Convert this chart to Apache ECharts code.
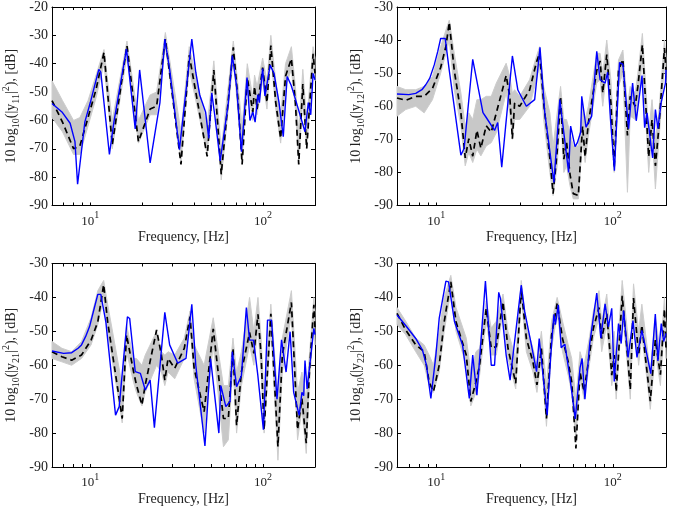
<!DOCTYPE html>
<html><head><meta charset="utf-8">
<script src="https://cdn.jsdelivr.net/npm/echarts@6/dist/echarts.min.js"></script>
<style>html,body{margin:0;padding:0;background:#fff}#c{width:675px;height:514px}</style>
</head><body><div id="c"></div>
<script>
// ---- axes ----
const xMin = 6, xMax = 200;
const xLabelValues = [10, 100];
const xLabelExp = ['1', '2'];
const xTickValues = [6, 7, 8, 9, 10, 20, 30, 40, 50, 60, 70, 80, 90, 100, 200];
const yMin = -90;
const yMaxes = [-20, -30, -30, -30];
const panelIdx = ['11', '12', '21', '22'];

// ---- y11 ----
const y11BlueF = [6, 6.85, 7.64, 8.15, 8.44, 9.3, 10, 11.2, 11.5, 12.9, 13.7, 16.2, 18.2, 19.3, 22.2, 25.3, 27.0, 28.8, 32.8, 38.7, 40.8, 43, 46.5, 48.5, 50.5, 52.5, 56.5, 63, 66.4, 70.3, 75, 80.8, 84, 87.3, 90, 93.3, 95.3, 99.5, 102.6, 110, 115.8, 123.8, 131, 138, 145.5, 154, 175, 183, 189, 195, 200];
const y11BlueV = [-54, -57, -61, -67.5, -82.5, -60.5, -53.7, -42, -43, -72, -60.5, -34.8, -63, -42.2, -75, -53.7, -31.3, -42, -70.3, -31.3, -43, -51, -57, -66.3, -50.3, -58, -74.3, -53.7, -37.1, -48, -71, -44.9, -60, -57, -60.6, -50.9, -53.7, -41.7, -51.4, -40.5, -43.4, -53.7, -65.7, -44.5, -47.6, -52.5, -64, -53.7, -58, -43.4, -45.7];
const y11BlackF = [6, 6.9, 8.0, 8.7, 9.7, 10.8, 12.0, 13.4, 16.3, 19.0, 22.2, 24.2, 27.2, 33.5, 37.4, 47.5, 51.9, 57.3, 67.3, 71.8, 75.7, 81.1, 87.3, 89.3, 92.4, 99.5, 105.4, 111, 118.5, 126.5, 135, 146, 154, 161, 170, 179, 195, 200];
const y11BlackV = [-53, -60.6, -70, -69, -59, -49, -36, -68.6, -33.6, -67.5, -56, -55, -31.3, -75.5, -37, -72.7, -42.2, -79, -34.2, -53.7, -75.5, -45, -57, -48, -56, -41.4, -53.7, -33.6, -53.7, -66.3, -44.4, -38.2, -53.7, -75.5, -47.2, -70, -36.5, -43.4];
const y11BandLow = [-59, -64, -72, -72, -62, -52, -40, -70, -37, -68, -58, -58, -34, -74, -42, -72, -46, -81, -38, -58, -74, -48, -60, -52, -58, -46, -56, -37, -56, -68, -48, -42, -56, -74, -52, -70, -40, -46];
const y11BandHigh = [-46, -53, -60, -59, -53, -44, -35, -60, -32, -60, -51, -50, -29, -64, -34, -62, -39, -70, -32, -48, -62, -40, -52, -44, -48, -38, -46, -30, -46, -58, -40, -34, -48, -64, -42, -60, -34, -38];

// ---- y12 ----
const y12BlueF = [6, 7, 7.66, 8.3, 8.73, 9.2, 9.75, 10.2, 10.6, 11.25, 11.86, 13.8, 14.4, 16.1, 16.4, 18.4, 19.2, 21.4, 22.3, 23.5, 27, 29, 32.4, 36.1, 38.7, 41.2, 46.4, 50.1, 56.2, 57.7, 61.1, 63, 65.8, 66.7, 70.5, 75.9, 81.1, 84.7, 90.4, 93.5, 97, 102.1, 109.1, 114, 122.8, 129.4, 135.7, 146.3, 151.4, 156.2, 168, 174.2, 180, 187.6, 198.6, 200];
const y12BlueV = [-56.3, -56.5, -56.1, -55, -53.5, -51.5, -47.5, -43.5, -39.5, -39.5, -49.2, -74.8, -72.7, -45.8, -45.8, -61.9, -63.4, -67.3, -64.9, -78.4, -44.8, -55.1, -60, -58, -42.2, -62, -83, -58, -80, -66, -72.2, -71, -67.8, -57, -66.3, -63, -43.4, -52, -53, -49.7, -64, -79.5, -46.8, -47.3, -66.8, -53, -64.4, -50.7, -66.5, -62, -75.6, -61, -66.8, -59, -53, -49];
const y12BlackF = [6, 6.72, 7.66, 8.55, 9.53, 10.6, 11.35, 11.86, 12.66, 13.8, 14.6, 15.3, 16.1, 17, 17.9, 19.2, 20.5, 21.9, 24.9, 26.1, 27, 27.8, 29.7, 33.8, 36.9, 38.5, 40.6, 44, 45.9, 48.4, 50.6, 52.8, 54.7, 57.2, 59.7, 63.8, 67.4, 69.7, 72.7, 81.1, 84.7, 87.7, 92.4, 97.5, 101.8, 107.7, 114, 121, 125.4, 133.9, 138.6, 147, 159.6, 166.7, 174.2, 182, 196, 200];
const y12BlackV = [-57.5, -58.2, -57, -57, -54.6, -48.3, -41.9, -34.6, -49.2, -62, -75.6, -69.8, -75.1, -67.3, -72.7, -65.9, -67.8, -62, -50.7, -57, -69.8, -59, -60, -55.1, -46.8, -43.9, -59, -75.6, -86.4, -73.7, -57, -76, -70.7, -80.5, -86.4, -87, -66, -75.3, -65, -49.2, -46.3, -56, -44.4, -59, -78.6, -49.2, -45.8, -68.8, -57, -60, -54, -41.4, -75.3, -64, -78, -66.8, -42.4, -49];
const y12BandLow = [-63, -61, -60, -62, -58, -50, -44, -40, -55, -66, -78, -74, -77, -73, -75, -72, -71, -68, -56, -62, -70, -64, -64, -60, -52, -48, -64, -80, -87, -78, -62, -80, -78, -84, -88, -88, -70, -77, -69, -53, -52, -60, -49, -64, -80, -54, -50, -86, -63, -64, -59, -46, -80, -68, -85, -71, -47, -53];
const y12BandHigh = [-54, -55, -55, -54, -51, -42, -37, -34, -44, -56, -66, -62, -64, -58, -58, -57, -57, -53, -47, -51, -56, -55, -57, -52, -45, -42, -54, -62, -72, -62, -54, -64, -64, -68, -72, -72, -60, -64, -60, -44, -44, -50, -40, -52, -70, -46, -43, -60, -54, -56, -50, -38, -68, -58, -70, -62, -40, -45];

// ---- y21 ----
const y21BlueF = [6, 7, 7.8, 8.5, 8.89, 9.4, 9.9, 10.5, 11.05, 11.5, 12.3, 14.0, 14.7, 16.4, 16.9, 18.2, 19.5, 20.8, 22.2, 23.5, 27, 28.8, 32.1, 35.8, 38.7, 40.8, 46.1, 49.7, 55.5, 57, 60.9, 64.4, 66.4, 70.3, 75, 80.1, 83.6, 88.1, 93.3, 100.5, 106.2, 112, 120.5, 128, 136, 143.5, 150.5, 162, 168, 172, 175, 180, 197, 200];
const y21BlueV = [-55.8, -56.5, -56.3, -55, -54, -51.5, -48.6, -43.5, -39.1, -39.1, -47.2, -74.7, -72.2, -45.7, -46.2, -61.9, -62.4, -67.3, -64.4, -78.4, -44.4, -54, -59.4, -58, -42, -60, -83.8, -58, -80, -66, -72.2, -70.7, -56, -66.3, -63, -43, -52.6, -52.6, -62.9, -79, -46.7, -46.7, -70, -52.5, -62, -50.1, -68, -74.8, -68, -69, -58.6, -67, -49.1, -51];
const y21BlackF = [6, 6.85, 7.8, 8.89, 10.1, 11.05, 11.95, 12.6, 15.3, 16.2, 17.8, 18.5, 19.9, 20.8, 24.2, 25.8, 27, 28.2, 30.8, 35, 37.8, 39.9, 45.6, 51.5, 59, 63, 67, 70.3, 75, 83.6, 88.5, 93.5, 97.5, 101.5, 111, 122, 129.4, 146, 158.5, 168, 178, 185, 197, 200];
const y21BlackV = [-56, -57.5, -58.5, -57, -52.6, -47.2, -36.2, -47.2, -75.7, -51, -61.9, -65.8, -71.7, -65.8, -49.6, -57, -64.4, -58, -60.9, -55, -45.7, -60.9, -73.7, -49.3, -75.7, -75.7, -55, -77.8, -61.9, -50.3, -56.5, -45, -57, -79, -44.8, -84, -57, -41.5, -79, -69.8, -83, -63.2, -42.2, -49];
const y21BandLow = [-58, -59, -60, -58, -54, -48, -40, -50, -77, -56, -65, -68, -72, -68, -60, -62, -66, -62, -64, -58, -48, -64, -80, -54, -84, -82, -60, -80, -66, -54, -60, -49, -62, -80, -49, -88, -62, -45, -82, -73, -86, -67, -47, -54];
const y21BandHigh = [-53, -55, -56, -53, -46, -38, -35, -42, -66, -48, -58, -58, -60, -57, -50, -56, -57, -56, -57, -52, -44, -54, -60, -46, -66, -66, -52, -62, -56, -40, -50, -40, -52, -70, -42, -70, -52, -38, -68, -62, -70, -58, -40, -44];

// ---- y22 ----
const y22BlueF = [6, 6.7, 7.66, 8.36, 8.8, 9.33, 9.96, 10.4, 11.35, 11.75, 12.7, 14.1, 15.4, 16.1, 16.4, 17, 19.0, 20.5, 21.4, 22.6, 23.1, 24.9, 26.2, 30.3, 31.7, 34.6, 37, 38.3, 42.5, 44.4, 46.4, 47.3, 49.1, 51, 53.5, 57.2, 61.3, 65.2, 67, 69.5, 74, 81.1, 85.5, 90.4, 94.4, 98.6, 101.9, 107.7, 111.5, 115, 122, 130, 137, 146, 152.8, 164, 174, 180, 188, 194, 200];
const y22BlueV = [-45.2, -48.2, -52.1, -55.5, -59.9, -69.8, -57, -46.2, -35.2, -35.4, -47.2, -54, -69.8, -57, -57, -68.8, -35.2, -60, -60, -38.5, -40.3, -57, -64.4, -36.4, -44.2, -54, -61.9, -52.1, -74.7, -58, -45, -48, -42.2, -54.8, -53.8, -63.7, -75.8, -60.8, -58, -70, -53.6, -38.7, -52, -41.9, -48.7, -43.2, -64.8, -47.7, -53.6, -43.9, -57.7, -46.8, -57.7, -49.7, -54.6, -62.5, -44.9, -58.7, -47.7, -53, -50.6];
const y22BlackF = [6, 6.72, 7.66, 8.55, 9.12, 9.65, 10.4, 11.1, 12.1, 12.95, 14.8, 15.7, 16.8, 17.6, 19.2, 20.5, 21.9, 23.9, 25.5, 28.2, 30.3, 32.4, 35.3, 37.2, 39.4, 42.1, 45, 48.4, 51.9, 55.9, 58.5, 61.8, 65.2, 68.7, 73.6, 77.6, 83.5, 86.5, 92.4, 97, 98.6, 101.8, 104.5, 113, 121, 125.6, 131, 140, 146, 163, 174, 186, 196, 200];
const y22BlackV = [-44.7, -49.6, -54, -56, -64.9, -67.8, -60, -47.2, -35.4, -47.2, -57, -70.7, -64.9, -60, -43.2, -55, -54.5, -41.3, -55, -65.3, -37.4, -52.1, -59, -65.8, -55, -75.7, -51.1, -41.8, -52.1, -59, -64.9, -84.5, -62, -67.8, -57, -49.1, -43, -52.1, -44.8, -58, -62.9, -57, -67.8, -39.5, -57, -67.2, -40.2, -57, -48.2, -70.6, -52.5, -62.8, -43.4, -55];
const y22BandLow = [-48, -51, -56, -60, -66, -68, -62, -50, -38, -50, -60, -72, -68, -63, -47, -57, -57, -44, -58, -67, -40, -56, -62, -68, -58, -78, -55, -45, -56, -63, -68, -82, -64, -70, -60, -52, -46, -56, -48, -61, -66, -60, -70, -43, -60, -70, -44, -60, -51, -73, -56, -66, -47, -58];
const y22BandHigh = [-43, -47, -52, -54, -57, -60, -50, -40, -33.5, -43, -52, -62, -56, -55, -41, -49, -47, -39, -50, -58, -35, -48, -55, -60, -50, -66, -47, -40, -47, -54, -58, -70, -56, -60, -52, -44, -38, -47, -39, -52, -56, -50, -60, -35, -50, -58, -36, -50, -42, -62, -46, -56, -40, -48];

const panels = [
  {blueF: y11BlueF, blueV: y11BlueV, blackF: y11BlackF, blackV: y11BlackV, low: y11BandLow, high: y11BandHigh},
  {blueF: y12BlueF, blueV: y12BlueV, blackF: y12BlackF, blackV: y12BlackV, low: y12BandLow, high: y12BandHigh},
  {blueF: y21BlueF, blueV: y21BlueV, blackF: y21BlackF, blackV: y21BlackV, low: y21BandLow, high: y21BandHigh},
  {blueF: y22BlueF, blueV: y22BlueV, blackF: y22BlackF, blackV: y22BlackV, low: y22BandLow, high: y22BandHigh}
];

const FONT = 'Liberation Serif';
const TXT = '#222';
const gridPos = [
  {left: 46.5, top: 2, width: 268.5, height: 203.5},
  {left: 397, top: 2, width: 269, height: 203.5},
  {left: 46.5, top: 263.5, width: 268.5, height: 203.5},
  {left: 397, top: 263.5, width: 269, height: 203.5}
];
const zip = (a, b) => a.map((v, i) => [v, b[i]]);

const grid = [], xAxis = [], yAxis = [], series = [];
gridPos.forEach((g, k) => {
  grid.push(Object.assign({containLabel: false}, g));
  const axisLine = {show: true, lineStyle: {color: '#000', width: 1}};
  const tickCommon = {show: true, inside: true, length: 3, customValues: xTickValues, lineStyle: {color: '#000', width: 1}};
  xAxis.push({
    type: 'log', logBase: 10, gridIndex: k, min: xMin, max: xMax, position: 'bottom',
    axisLine, axisTick: tickCommon, splitLine: {show: false}, minorTick: {show: false},
    axisLabel: {
      customValues: xLabelValues, margin: 5,
      formatter: v => {
        let i = xLabelValues.findIndex(t => Math.abs(t - v) < 1e-6 * t);
        return i < 0 ? '' : '{b|10}{s|' + xLabelExp[i] + '}';
      },
      rich: {
        b: {fontFamily: FONT, fontSize: 13, color: TXT, lineHeight: 22},
        s: {fontFamily: FONT, fontSize: 10, color: TXT, lineHeight: 8, verticalAlign: 'top'}
      }
    },
    name: 'Frequency, [Hz]', nameLocation: 'middle', nameGap: 25,
    nameTextStyle: {fontFamily: FONT, fontSize: 14, color: TXT}
  });
  xAxis.push({
    type: 'log', logBase: 10, gridIndex: k, min: xMin, max: xMax, position: 'top',
    axisLine, axisTick: tickCommon, axisLabel: {show: false}, splitLine: {show: false}
  });
  const yTick = {show: true, inside: true, length: 4, lineStyle: {color: '#000', width: 1}};
  yAxis.push({
    type: 'value', gridIndex: k, min: yMin, max: yMaxes[k], interval: 10, position: 'left',
    axisLine, axisTick: yTick, splitLine: {show: false},
    axisLabel: {fontFamily: FONT, fontSize: 14, color: TXT, margin: 4},
    name: '{n|10 log}{s|10}{n|(|y}{s|' + panelIdx[k] + '}{n||}{p|2}{n|), [dB]}',
    nameLocation: 'middle', nameRotate: 90, nameGap: 31,
    nameTextStyle: {
      rich: {
        n: {fontFamily: FONT, fontSize: 14, color: TXT, lineHeight: 20},
        s: {fontFamily: FONT, fontSize: 10, color: TXT, lineHeight: 11, verticalAlign: 'bottom'},
        p: {fontFamily: FONT, fontSize: 10, color: TXT, lineHeight: 8, verticalAlign: 'top'}
      }
    }
  });
  yAxis.push({
    type: 'value', gridIndex: k, min: yMin, max: yMaxes[k], interval: 10, position: 'right',
    axisLine, axisTick: yTick, axisLabel: {show: false}, splitLine: {show: false}
  });
  const p = panels[k];
  const xi = 2 * k, yi = 2 * k;
  // uncertainty band: one polygon through the axes' coordinate mapping
  series.push({
    type: 'custom', coordinateSystem: 'cartesian2d', xAxisIndex: xi, yAxisIndex: yi,
    data: p.blackF.map((f, i) => [f, p.low[i], p.high[i]]),
    encode: {x: 0, y: [1, 2]}, silent: true, z: 1,
    renderItem: (params, api) => {
      if (params.dataIndex !== 0) return null;
      const pts = [];
      for (let i = 0; i < p.blackF.length; i++) pts.push(api.coord([p.blackF[i], p.high[i]]));
      for (let i = p.blackF.length - 1; i >= 0; i--) pts.push(api.coord([p.blackF[i], p.low[i]]));
      return {type: 'polygon', shape: {points: pts}, style: {fill: '#c8c8c8', stroke: '#cdcdcd', lineWidth: 1}};
    }
  });
  series.push({
    type: 'line', xAxisIndex: xi, yAxisIndex: yi, data: zip(p.blackF, p.blackV), symbol: 'none',
    lineStyle: {color: '#000', width: 1.7, type: [6, 4]}, z: 2
  });
  series.push({
    type: 'line', xAxisIndex: xi, yAxisIndex: yi, data: zip(p.blueF, p.blueV), symbol: 'none',
    lineStyle: {color: '#0000ff', width: 1.4}, z: 3
  });
});

const chart = echarts.init(document.getElementById('c'), null, {renderer: 'canvas'});
chart.setOption({animation: false, backgroundColor: '#fff', grid, xAxis, yAxis, series});
</script></body></html>
